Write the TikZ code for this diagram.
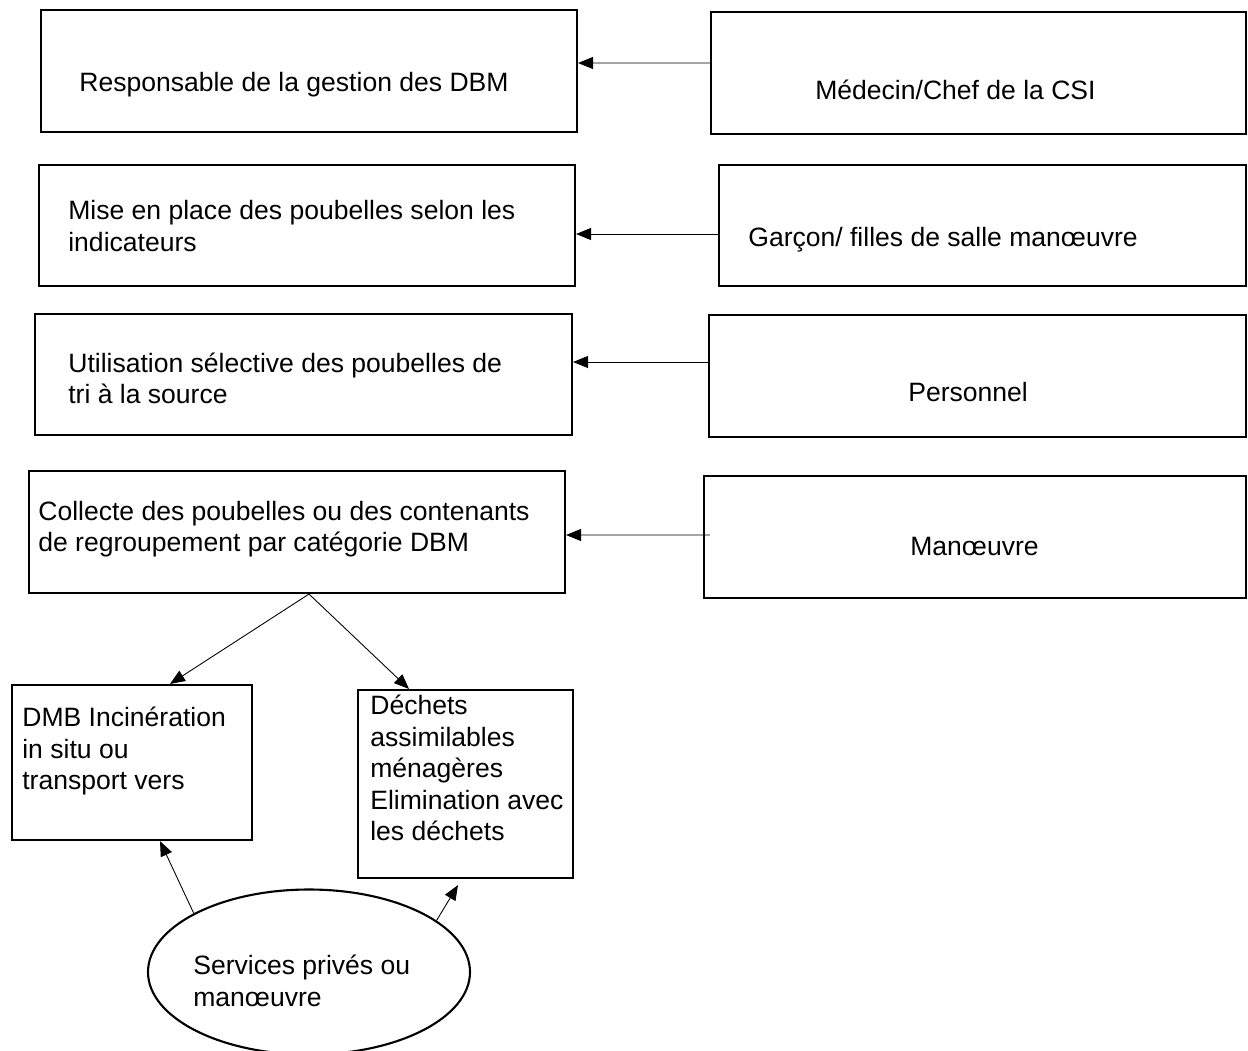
\documentclass[tikz,border=0pt]{standalone}
\usepackage{fontspec}
\setmainfont{Liberation Sans}
\usetikzlibrary{arrows.meta,shapes.geometric}
\tikzset{
  cadre/.style={draw, line width=1.2pt, minimum height=2.44cm, inner sep=0pt},
  texte/.style={anchor=west, align=left, inner sep=0pt, font=\fontsize{15.1}{18}\selectfont},
  fleche/.style={-{Triangle[length=0.3cm,width=0.24cm]}, line width=0.5pt}
}

\begin{document}
\begin{tikzpicture}
\useasboundingbox (0,0) rectangle (24.96,-21);

% left column
\node[cadre, minimum width=10.72cm] (b1) at (6.18,-1.42) {};
\node[cadre, minimum width=10.72cm, minimum height=2.42cm] (b2) at (6.14,-4.51) {};
\node[cadre, minimum width=10.74cm, minimum height=2.42cm] (b3) at (6.07,-7.49) {};
\node[cadre, minimum width=10.72cm] (b4) at (5.94,-10.64) {};
% right column
\node[cadre, minimum width=10.7cm] (b1r) at (19.57,-1.46) {};
\node[cadre, minimum width=10.54cm, minimum height=2.42cm] (b2r) at (19.65,-4.51) {};
\node[cadre, minimum width=10.74cm] (b3r) at (19.55,-7.52) {};
\node[cadre, minimum width=10.84cm] (b4r) at (19.5,-10.74) {};
% bottom
\node[cadre, minimum width=4.8cm, minimum height=3.1cm] (b5) at (2.64,-15.25) {};
\node[cadre, minimum width=4.3cm, minimum height=3.76cm] (b6) at (9.31,-15.68) {};
\node[draw, ellipse, line width=1.2pt, minimum width=6.44cm, minimum height=3.3cm] (ell) at (6.18,-19.44) {};

% texts
\node[texte] (t1) at (1.58,-1.7) {Responsable de la gestion des DBM};
\node[texte] (t1r) at (16.3,-1.8) {Médecin/Chef de la CSI};
\node[texte] (t2) at (1.36,-4.52) {Mise en place des poubelles selon les\\indicateurs};
\node[texte] (t2r) at (14.96,-4.8) {Garçon/ filles de salle manœuvre};
\node[texte] (t3) at (1.36,-7.57) {Utilisation sélective des poubelles de\\tri à la source};
\node[texte] (t3r) at (18.16,-7.84) {Personnel};
\node[texte] (t4) at (0.76,-10.58) {Collecte des poubelles ou des contenants\\de regroupement par catégorie DBM};
\node[texte] (t4r) at (18.2,-10.92) {Manœuvre};
\node[texte] (t5) at (0.44,-15.02) {DMB Incinération\\in situ ou\\transport vers};
\node[texte] (t6) at (7.4,-15.36) {Déchets\\assimilables\\ménagères\\Elimination avec\\les déchets};
\node[texte] (t7) at (3.86,-19.62) {Services privés ou\\manœuvre};

% connectors
\draw[fleche] ([yshift=0.2cm]b1r.west) -- ([yshift=0.16cm]b1.east);
\draw[fleche] ([yshift=-0.17cm]b2r.west) -- ([yshift=-0.17cm]b2.east);
\draw[fleche] ([yshift=0.28cm]b3r.west) -- ([yshift=0.25cm]b3.east);
\draw[fleche] ([xshift=0.14cm,yshift=0.04cm]b4r.west) -- ([yshift=-0.06cm]b4.east);
\draw[fleche] ([xshift=0.24cm]b4.south) -- ([xshift=0.76cm]b5.north);
\draw[fleche] ([xshift=0.24cm]b4.south) -- ([xshift=-1.13cm]b6.north);
\draw[fleche] (ell.153) -- ([xshift=0.56cm]b5.south);
\draw[fleche] (ell.22) -- ([xshift=-0.15cm,yshift=-0.12cm]b6.south);
\end{tikzpicture}
\end{document}
